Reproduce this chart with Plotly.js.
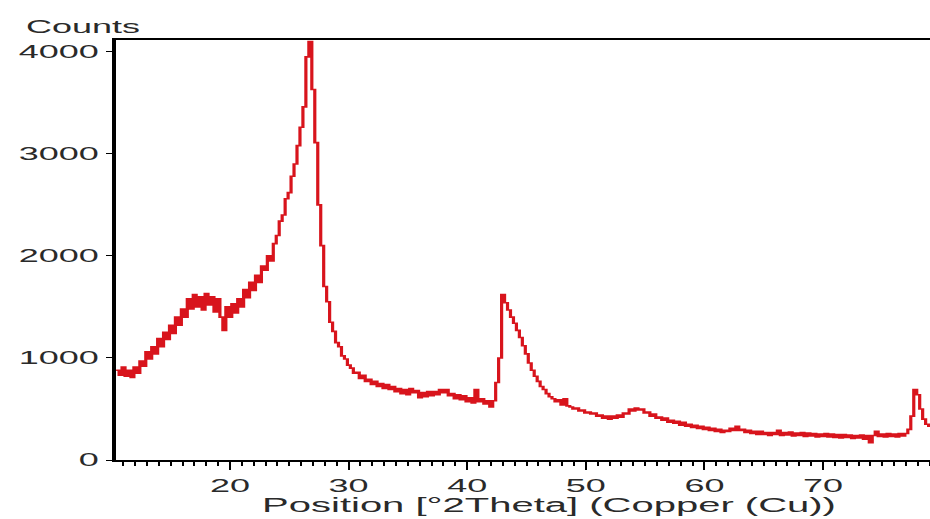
<!DOCTYPE html>
<html>
<head>
<meta charset="utf-8">
<script src="https://cdn.plot.ly/plotly-3.0.1.min.js"></script>
<style>
  html, body { margin: 0; padding: 0; background: #ffffff; overflow: hidden; }
  #wrap { width: 930px; height: 519px; overflow: hidden; position: relative; }
  #plot { width: 465px; height: 519px; transform: scaleX(2); transform-origin: 0 0; }
</style>
</head>
<body>
<div id="wrap"><div id="plot"></div></div>
<script>
// Scan settings (degrees 2Theta)
const scanStart = 10.4;
const scanStep = 0.25;

// Counts
const counts = [
  880,830,910,820,880,810,910,850,970,920,
  1060,990,1110,1040,1190,1110,1250,1180,1320,1240,
  1400,1320,1480,1400,1580,1480,1620,1500,1600,1470,
  1630,1520,1600,1450,1580,1400,1270,1500,1400,1530,
  1440,1580,1500,1670,1590,1740,1660,1810,1740,1900,
  1860,2000,1950,2120,2200,2340,2400,2560,2620,2780,
  2900,3080,3260,3460,3950,4100,3630,3110,2500,2100,
  1700,1550,1350,1260,1150,1110,1020,990,930,900,
  850,860,800,830,770,790,740,770,720,750,
  700,740,690,720,670,700,650,690,640,700,
  660,680,610,660,620,670,630,670,640,690,
  660,690,630,650,600,640,590,630,570,610,
  560,690,570,600,550,580,520,580,760,1000,
  1620,1540,1470,1400,1340,1270,1200,1120,1040,950,
  880,820,770,720,690,650,620,600,570,590,
  540,600,530,520,500,510,480,490,460,470,
  450,460,430,440,410,430,400,430,410,440,
  420,460,450,500,480,510,490,500,460,470,
  430,450,410,420,390,410,370,390,360,380,
  340,370,330,350,320,340,310,330,300,320,
  290,310,280,300,270,290,280,310,290,330,
  290,300,270,290,260,280,250,280,250,270,
  240,270,250,290,240,270,245,275,235,265,
  240,270,230,265,235,260,225,255,230,260,
  225,255,220,250,215,250,220,245,210,240,
  215,245,205,240,170,240,280,230,255,225,
  260,230,255,225,260,235,260,300,430,690,
  640,500,400,350,330,320
];

const xTickVals = [20, 30, 40, 50, 60, 70];
const yTickVals = [0, 1000, 2000, 3000, 4000];
const yLabel = 'Counts';
const xLabel = 'Position [°2Theta] (Copper (Cu))';

const twoTheta = counts.map((_, i) => scanStart + i * scanStep);

const FONT = 'Liberation Sans, Arial, sans-serif';
const TXT = '#2a2a2a';

const trace = {
  x: twoTheta,
  y: counts,
  type: 'scatter',
  mode: 'lines',
  line: { color: '#d8141c', width: 1.6, shape: 'hv' },
  hoverinfo: 'skip'
};

const layout = {
  width: 465,
  height: 519,
  margin: { l: 58, r: 0, t: 40, b: 59 },
  paper_bgcolor: '#ffffff',
  plot_bgcolor: '#ffffff',
  showlegend: false,
  font: { family: FONT, color: TXT, size: 18 },
  xaxis: {
    range: [10.39, 79.02],
    tickvals: xTickVals,
    ticktext: xTickVals.map(String),
    ticks: 'outside',
    ticklen: 8,
    tickwidth: 1,
    tickcolor: '#000',
    showline: true,
    linecolor: '#000',
    linewidth: 2,
    mirror: true,
    showgrid: false,
    zeroline: false,
    tickfont: { family: FONT, size: 18, color: TXT },
    minor: { dtick: 1, tick0: 0, ticks: 'outside', ticklen: 4, tickcolor: '#000', tickwidth: 1, showgrid: false }
  },
  yaxis: {
    range: [0, 4115],
    tickvals: yTickVals,
    ticktext: yTickVals.map(String),
    ticks: 'outside',
    ticklen: 3,
    tickwidth: 1,
    tickcolor: '#000',
    showline: true,
    linecolor: '#000',
    linewidth: 2,
    showgrid: false,
    zeroline: false,
    tickfont: { family: FONT, size: 18, color: TXT }
  },
  annotations: [
    {
      text: yLabel, xref: 'paper', yref: 'paper',
      x: -0.1155, y: 1.031, xanchor: 'left', yanchor: 'middle',
      showarrow: false, font: { family: FONT, size: 18, color: TXT }
    },
    {
      text: xLabel, xref: 'paper', yref: 'paper',
      x: 0.5326, y: -0.107, xanchor: 'center', yanchor: 'middle',
      showarrow: false, font: { family: FONT, size: 20, color: TXT }
    }
  ]
};

Plotly.newPlot('plot', [trace], layout, { displayModeBar: false, staticPlot: true });
</script>
</body>
</html>
